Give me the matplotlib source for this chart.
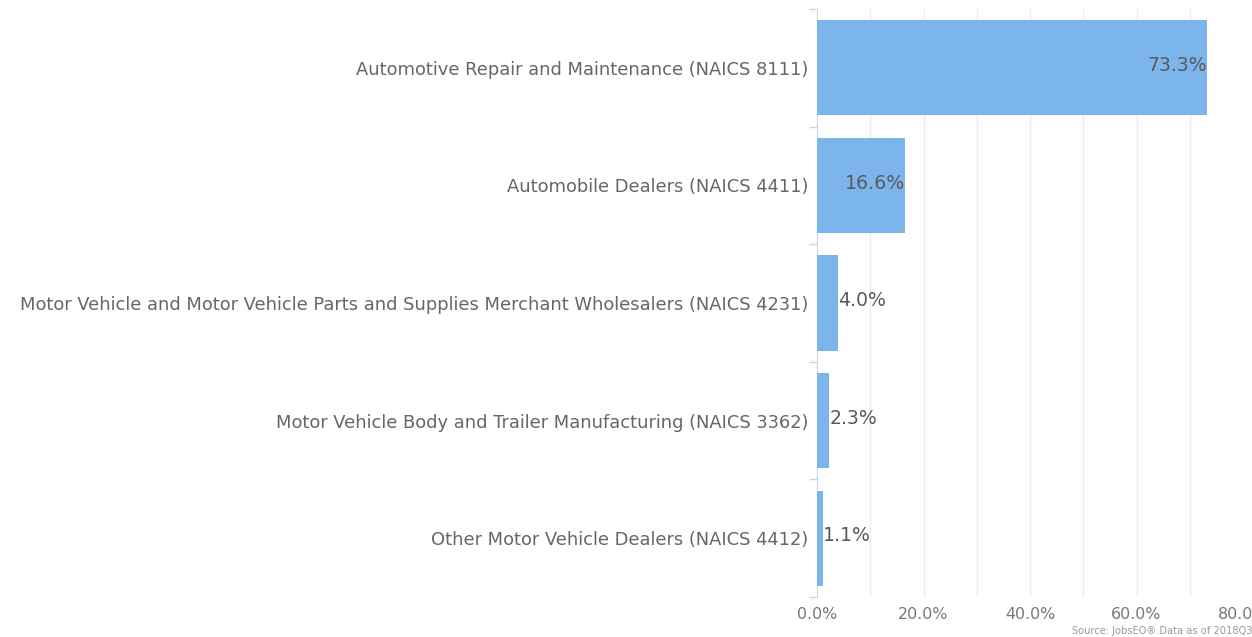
import numpy as np
import matplotlib.pyplot as plt
from matplotlib.ticker import FixedLocator, FuncFormatter

categories = [
    'Automotive Repair and Maintenance (NAICS 8111)',
    'Automobile Dealers (NAICS 4411)',
    'Motor Vehicle and Motor Vehicle Parts and Supplies Merchant Wholesalers (NAICS 4231)',
    'Motor Vehicle Body and Trailer Manufacturing (NAICS 3362)',
    'Other Motor Vehicle Dealers (NAICS 4412)',
]
shares = [73.3, 16.6, 4.0, 2.3, 1.1]
xticks = [0, 20, 40, 60, 80]

bar_col = '#7cb5ec'
txt_col = '#666666'

fig = plt.figure(figsize=(12.52, 6.37), dpi=100)
ax = fig.add_axes([817 / 1252, 1 - 597 / 637, 426 / 1252, 588 / 637])

y = np.arange(len(categories))
ax.barh(y, shares, height=0.81, color=bar_col, zorder=3)

ax.set_xlim(0, 80)
ax.set_ylim(len(categories) - 0.5, -0.5)

# gridlines every 10 %
for g in range(10, 81, 10):
    ax.axvline(g, color='#ececec', lw=1, zorder=1)

ax.set_yticks(y)
ax.set_yticklabels(categories, fontsize=12.9, color=txt_col)
ax.yaxis.set_minor_locator(FixedLocator(np.arange(-0.5, len(categories), 1)))
ax.tick_params(axis='y', which='major', length=0, pad=6)
ax.tick_params(axis='y', which='minor', length=6, color='#ccd6eb', width=1)

ax.set_xticks(xticks)
ax.xaxis.set_major_formatter(FuncFormatter(lambda v, p: f'{v:.1f}%'))
ax.tick_params(axis='x', length=0, labelsize=11.4, labelcolor='#777777', pad=7)

for s in ['top', 'right', 'bottom']:
    ax.spines[s].set_visible(False)
ax.spines['left'].set_color('#ccd6eb')

for yi, v in zip(y, shares):
    if v > 10:
        ax.text(v, yi - 0.02, f'{v:.1f}%', ha='right', va='center', fontsize=13.6,
                color='#5a5a5a', zorder=4)
    else:
        ax.text(v, yi - 0.02, f'{v:.1f}%', ha='left', va='center', fontsize=13.6,
                color='#5a5a5a', zorder=4)

fig.text(1072 / 1252, 1 - 636 / 637, 'Source: JobsEO\u00ae.Data as of 2018Q3',
         fontsize=7.1, color='#999999', ha='left', va='bottom')

fig.savefig('out.png', dpi=100)
